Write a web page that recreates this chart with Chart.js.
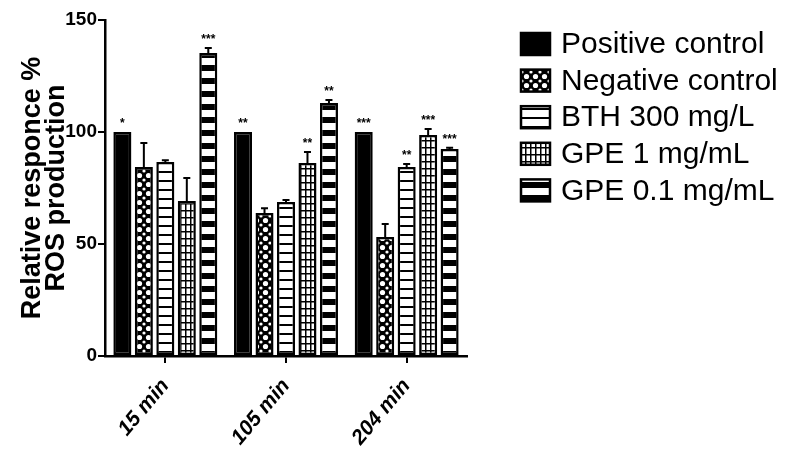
<!DOCTYPE html>
<html>
<head>
<meta charset="utf-8">
<script src="https://cdn.jsdelivr.net/npm/chart.js@4/dist/chart.umd.min.js"></script>
<style>
  html, body { margin: 0; padding: 0; background: #fff; }
  #wrap { width: 791px; height: 455px; }
</style>
</head>
<body>
<div id="wrap"><canvas id="myChart" width="791" height="455"></canvas></div>
<script>
// data
var times = ["15 min", "105 min", "204 min"];
var seriesNames = ["Positive control", "Negative control", "BTH 300 mg/L", "GPE 1 mg/mL", "GPE 0.1 mg/mL"];

var positiveCtrl = [100, 100, 100];
var negativeCtrl = [84.4, 63.8, 53.1];
var bth300 = [86.6, 68.7, 84.4];
var gpe1 = [69.2, 86.2, 98.7];
var gpe01 = [135.3, 112.9, 92.4];

var positiveErr = [0, 0, 0];
var negativeErr = [10.7, 2.2, 5.8];
var bthErr = [0.8, 0.9, 1.3];
var gpe1Err = [10.3, 4.9, 2.6];
var gpe01Err = [2.2, 1.4, 0.6];

var positiveStars = ["*", "**", "***"];
var negativeStars = ["", "", ""];
var bthStars = ["", "", "**"];
var gpe1Stars = ["", "**", "***"];
var gpe01Stars = ["***", "**", "***"];

var yTicks = [0, 50, 100, 150];

// fill patterns
function makePattern(w, h, draw) {
    var c = document.createElement("canvas");
    c.width = w;
    c.height = h;
    var g = c.getContext("2d");
    draw(g, w, h);
    return g.createPattern(c, "repeat");
}

var solidBlack = "#000";

var dotsPattern = makePattern(9, 9, function (g, w, h) {
    g.fillStyle = "#000";
    g.fillRect(0, 0, w, h);
    g.fillStyle = "#fff";
    g.beginPath();
    g.arc(4.5, 4.5, 2.6, 0, Math.PI * 2);
    g.fill();
    [[0, 0], [9, 0], [0, 9], [9, 9]].forEach(function (p) {
        g.beginPath();
        g.arc(p[0], p[1], 1.6, 0, Math.PI * 2);
        g.fill();
    });
});

var thinLines = makePattern(9, 9, function (g, w, h) {
    g.fillStyle = "#fff";
    g.fillRect(0, 0, w, h);
    g.fillStyle = "#000";
    g.fillRect(0, 0, w, 2);
});

var gridPattern = makePattern(5, 7, function (g, w, h) {
    g.fillStyle = "#fff";
    g.fillRect(0, 0, w, h);
    g.fillStyle = "#000";
    g.fillRect(0, 0, w, 1.5);
    g.fillRect(0, 0, 1.5, h);
});

var thickLines = makePattern(13, 13, function (g, w, h) {
    g.fillStyle = "#fff";
    g.fillRect(0, 0, w, h);
    g.fillStyle = "#000";
    g.fillRect(0, 0, w, 6);
});

function bar(label, data, fill, err, stars) {
    return {
        label: label,
        data: data,
        errors: err,
        stars: stars,
        backgroundColor: fill,
        borderColor: "#000",
        borderWidth: 2.5,
        borderSkipped: false,
        categoryPercentage: 0.89,
        barPercentage: 0.84
    };
}

// error bars (upper only) and significance stars
var errorBarPlugin = {
    id: "errorBars",
    afterDatasetsDraw: function (chart) {
        var ctx = chart.ctx;
        var yScale = chart.scales.y;
        ctx.save();
        chart.data.datasets.forEach(function (ds, i) {
            var meta = chart.getDatasetMeta(i);
            meta.data.forEach(function (el, j) {
                var v = ds.data[j];
                var e = ds.errors[j];
                var top = yScale.getPixelForValue(v + e);
                if (e > 0) {
                    ctx.strokeStyle = "#000";
                    ctx.lineWidth = 2;
                    ctx.beginPath();
                    ctx.moveTo(el.x, el.y);
                    ctx.lineTo(el.x, top);
                    ctx.moveTo(el.x - 3.5, top);
                    ctx.lineTo(el.x + 3.5, top);
                    ctx.stroke();
                }
                if (ds.stars[j]) {
                    ctx.fillStyle = "#000";
                    ctx.font = "bold 12px 'Liberation Sans', Arial, sans-serif";
                    ctx.textAlign = "center";
                    ctx.textBaseline = "alphabetic";
                    ctx.fillText(ds.stars[j], el.x, top - 5);
                }
            });
        });
        ctx.restore();
    }
};

// legend on the right
var legendPlugin = {
    id: "sideLegend",
    afterDraw: function (chart) {
        var ctx = chart.ctx;
        ctx.save();
        chart.data.datasets.forEach(function (ds, i) {
            var cy = 44 + i * 36.6;
            ctx.fillStyle = ds.backgroundColor;
            ctx.fillRect(521, cy - 11, 29, 22);
            ctx.strokeStyle = "#000";
            ctx.lineWidth = 2.5;
            ctx.strokeRect(521, cy - 11, 29, 22);
            ctx.fillStyle = "#000";
            ctx.font = "30px 'Liberation Sans', Arial, sans-serif";
            ctx.textAlign = "left";
            ctx.textBaseline = "middle";
            ctx.fillText(ds.label, 561, cy + 1);
        });
        ctx.restore();
    }
};

var chart = new Chart(document.getElementById("myChart"), {
    type: "bar",
    data: {
        labels: times,
        datasets: [
            bar(seriesNames[0], positiveCtrl, solidBlack, positiveErr, positiveStars),
            bar(seriesNames[1], negativeCtrl, dotsPattern, negativeErr, negativeStars),
            bar(seriesNames[2], bth300, thinLines, bthErr, bthStars),
            bar(seriesNames[3], gpe1, gridPattern, gpe1Err, gpe1Stars),
            bar(seriesNames[4], gpe01, thickLines, gpe01Err, gpe01Stars)
        ]
    },
    options: {
        responsive: false,
        animation: false,
        layout: {
            padding: { top: 20, right: 324, left: 10, bottom: 0 }
        },
        plugins: {
            legend: { display: false },
            tooltip: { enabled: false }
        },
        scales: {
            x: {
                grid: {
                    display: true,
                    drawOnChartArea: false,
                    offset: false,
                    color: "#000",
                    lineWidth: 2,
                    tickLength: 7
                },
                border: { color: "#000", width: 2.5 },
                ticks: {
                    color: "#000",
                    minRotation: 50,
                    maxRotation: 50,
                    padding: 11,
                    font: { family: "'Liberation Sans', Arial, sans-serif", size: 21, weight: "bold", style: "italic" }
                },
                afterFit: function (scale) {
                    scale.height = 99;
                }
            },
            y: {
                min: 0,
                max: 150,
                afterBuildTicks: function (scale) {
                    scale.ticks = yTicks.map(function (v) { return { value: v }; });
                },
                grid: {
                    display: true,
                    drawOnChartArea: false,
                    color: "#000",
                    lineWidth: 2,
                    tickLength: 7
                },
                border: { color: "#000", width: 2.5 },
                ticks: {
                    color: "#000",
                    padding: 1,
                    font: { family: "'Liberation Sans', Arial, sans-serif", size: 19, weight: "bold" }
                },
                title: {
                    display: true,
                    text: ["Relative responce %", "ROS production"],
                    color: "#000",
                    padding: { top: 10, bottom: 0 },
                    font: { family: "'Liberation Sans', Arial, sans-serif", size: 27, weight: "bold", lineHeight: 0.9 }
                },
                afterFit: function (scale) {
                    scale.width = 95;
                }
            }
        }
    },
    plugins: [errorBarPlugin, legendPlugin]
});
</script>
</body>
</html>
